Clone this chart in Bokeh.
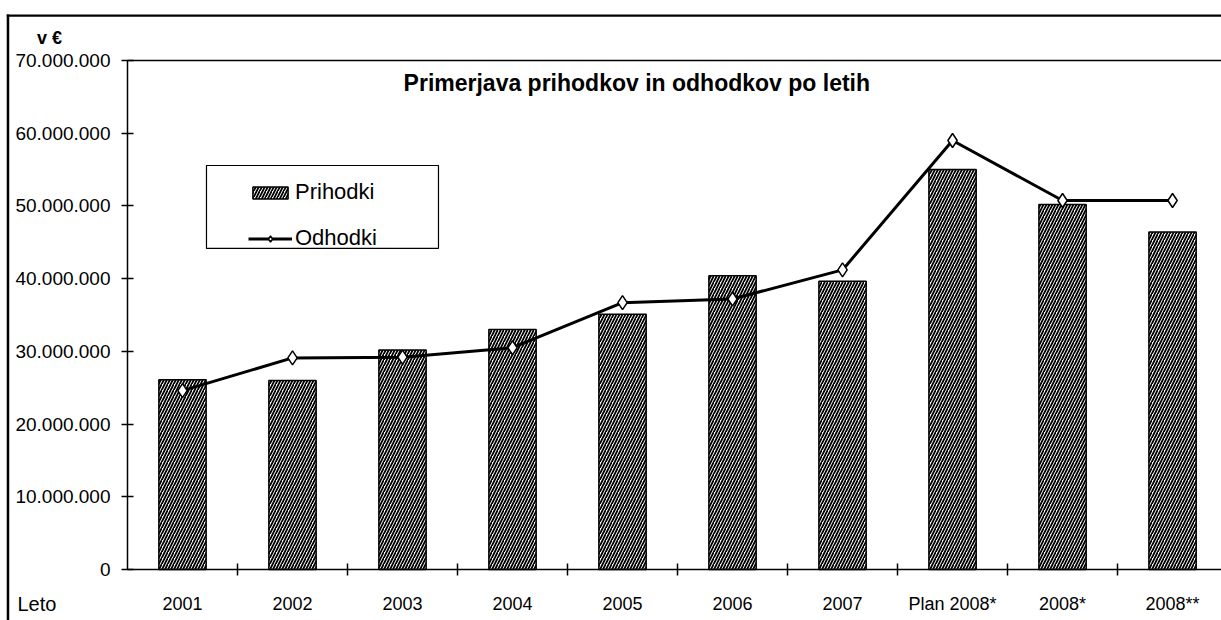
from bokeh.plotting import figure
from bokeh.models import (Range1d, FixedTicker, LinearAxis, Label, Legend,
                          LegendItem, BoxAnnotation, ColumnDataSource)
from bokeh.embed import file_html
from bokeh.resources import INLINE

# ---- data ----
categories = ["2001", "2002", "2003", "2004", "2005", "2006", "2007",
              "Plan 2008*", "2008*", "2008**"]
prihodki = [26.1e6, 26.0e6, 30.2e6, 33.0e6, 35.1e6, 40.4e6, 39.65e6,
            55.0e6, 50.2e6, 46.4e6]
odhodki = [24.6e6, 29.1e6, 29.2e6, 30.5e6, 36.7e6, 37.2e6, 41.2e6,
           59.0e6, 50.75e6, 50.75e6]
y_ticks = [0, 10000000, 20000000, 30000000, 40000000, 50000000, 60000000, 70000000]
y_tick_labels = ["0", "10.000.000", "20.000.000", "30.000.000", "40.000.000",
                 "50.000.000", "60.000.000", "70.000.000"]
title_text = "Primerjava prihodkov in odhodkov po letih"
unit_text = "v €"
x_title = "Leto"
series_names = ["Prihodki", "Odhodki"]

FONT = "Liberation Sans"
xpos = list(range(len(categories)))
source = ColumnDataSource(dict(x=xpos, cat=categories, prih=prihodki, odh=odhodki))

Y_MAX = 70e6
p = figure(width=1221, height=620,
           x_range=Range1d(-1.6545, 9.445), y_range=Range1d(-7.014e6, 78.25e6),
           output_backend="svg", toolbar_location=None, min_border=0,
           min_border_left=0, min_border_right=0, min_border_top=0,
           min_border_bottom=0, background_fill_color="white",
           border_fill_color="white")
p.outline_line_color = None
p.xgrid.visible = False
p.ygrid.visible = False

# outer frame: thin filled strips along the left and top edge
p.add_layout(BoxAnnotation(left=-1.598, right=-1.575, top=76.33e6, bottom=None,
                           fill_color="black", fill_alpha=1.0, line_color=None))
p.add_layout(BoxAnnotation(left=-1.598, right=None, top=76.33e6, bottom=76.0e6,
                           fill_color="black", fill_alpha=1.0, line_color=None))

# bars
bars = p.vbar(x="x", top="prih", width=0.43, source=source,
              fill_color="white", line_color="black", line_width=1.5,
              hatch_pattern="/", hatch_color="black", hatch_scale=6,
              hatch_weight=1.8)
# line
line_r = p.line(x="x", y="odh", source=source, line_color="black", line_width=3)
pts = p.scatter(x="x", y="odh", source=source, marker="diamond", size=14,
                fill_color="white", line_color="black", line_width=1.5)

# x axis (crosses at 0)
xa = p.xaxis[0]
xa.fixed_location = 0
xa.bounds = (-0.5, 30)
xa.ticker = FixedTicker(ticks=xpos, minor_ticks=[i + 0.5 for i in xpos[:-1]])
xa.major_label_overrides = {i: c for i, c in zip(xpos, categories)}
xa.major_tick_in = 0
xa.major_tick_out = 0
xa.minor_tick_in = 6
xa.minor_tick_out = 6
xa.minor_tick_line_color = "black"
xa.minor_tick_line_width = 1.5
xa.axis_line_color = "black"
xa.axis_line_width = 1.5
xa.major_label_standoff = 19
xa.major_label_text_font = FONT
xa.major_label_text_font_size = "18px"
xa.major_label_text_color = "black"

# y axis (at the left edge of the category area)
ya = p.yaxis[0]
ya.fixed_location = -0.5
ya.bounds = (0, Y_MAX)
ya.ticker = FixedTicker(ticks=y_ticks, minor_ticks=[])
ya.major_label_overrides = {t: l for t, l in zip(y_ticks, y_tick_labels)}
ya.major_tick_in = 6
ya.major_tick_out = 6
ya.major_tick_line_color = "black"
ya.major_tick_line_width = 1.5
ya.minor_tick_line_color = None
ya.axis_line_color = "black"
ya.axis_line_width = 1.5
ya.major_label_standoff = 11
ya.major_label_text_font = FONT
ya.major_label_text_font_size = "19px"
ya.major_label_text_color = "black"

# top border of plot area
top_axis = LinearAxis(ticker=FixedTicker(ticks=[]), fixed_location=Y_MAX,
                      bounds=(-0.5, 30), major_tick_in=0,
                      major_tick_out=0, minor_tick_in=0, minor_tick_out=0,
                      major_label_text_font_size="0px", axis_line_color="black",
                      axis_line_width=1.5)
p.add_layout(top_axis, "above")

# title and labels
p.add_layout(Label(x=4.13, y=66.84e6, text=title_text, text_align="center",
                   text_baseline="alphabetic", text_font=FONT,
                   text_font_size="23px", text_font_style="bold",
                   text_color="black"))
p.add_layout(Label(x=-1.209, y=73.16e6, text=unit_text, text_align="center",
                   text_baseline="middle", text_font=FONT,
                   text_font_size="18px", text_font_style="bold",
                   text_color="black"))
p.add_layout(Label(x=-1.5, y=-4.81e6, text=x_title, text_align="left",
                   text_baseline="middle", text_font=FONT,
                   text_font_size="20px", text_color="black"))

# legend box + legend
p.add_layout(BoxAnnotation(left=0.218, right=2.327, top=55.56e6, bottom=44.15e6,
                           fill_color="white", fill_alpha=1.0,
                           line_color="black", line_width=1.2, line_alpha=1.0))
legend = Legend(items=[LegendItem(label=series_names[0], renderers=[bars]),
                       LegendItem(label=series_names[1], renderers=[line_r, pts])],
                location=(248, 369), border_line_color=None,
                background_fill_alpha=0, padding=8, spacing=20,
                glyph_width=44, glyph_height=15, label_height=25,
                label_standoff=3, label_text_font=FONT,
                label_text_font_size="22px", label_text_color="black")
p.add_layout(legend)

open("out.html", "w").write(file_html(p, INLINE))
